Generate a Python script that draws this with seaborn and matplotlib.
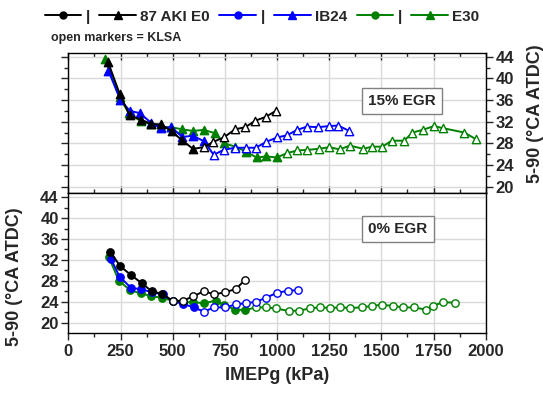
import matplotlib
matplotlib.use("Agg")
import matplotlib.pyplot as plt
import seaborn as sns
from matplotlib.lines import Line2D
from matplotlib.ticker import MultipleLocator

# ---------------- data ----------------
# 15% EGR (top panel)
e0_15_fill_x = [190, 245, 293, 346, 397, 445, 496, 544, 597]
e0_15_fill_y = [43.0, 37.2, 33.2, 32.4, 31.6, 31.5, 30.2, 28.6, 27.0]
e0_15_open_x = [648, 695, 745, 798, 848, 896, 946, 994]
e0_15_open_y = [27.3, 28.3, 29.1, 30.6, 31.0, 32.2, 32.9, 34.0]

ib_15_fill_x = [192, 248, 294, 341, 397, 445, 493, 546, 597, 650]
ib_15_fill_y = [41.4, 36.1, 34.0, 33.6, 31.8, 30.8, 31.0, 29.2, 29.4, 28.4]
ib_15_open_x = [696, 744, 797, 850, 898, 949, 1000, 1048, 1096, 1144, 1197, 1250, 1293, 1346]
ib_15_open_y = [25.9, 26.8, 27.2, 27.2, 27.2, 28.3, 29.1, 29.5, 30.5, 31.1, 31.0, 31.2, 31.3, 30.3]

e30_15_fill_x = [176, 245, 289, 346, 397, 445, 493, 544, 597, 648, 701, 748, 800, 850, 902, 949, 998]
e30_15_fill_y = [43.5, 36.5, 33.6, 32.1, 31.5, 31.0, 31.0, 30.6, 30.3, 30.5, 29.9, 28.0, 27.4, 26.5, 25.4, 25.6, 25.4]
e30_15_open_x = [1048, 1096, 1144, 1200, 1250, 1300, 1349, 1413, 1455, 1505, 1549, 1609, 1649, 1698, 1752, 1797, 1898, 1952]
e30_15_open_y = [26.2, 26.7, 26.8, 27.0, 27.3, 26.9, 27.6, 27.0, 27.4, 27.4, 28.5, 28.5, 30.0, 30.5, 31.2, 30.8, 30.0, 28.8]

# 0% EGR (bottom panel)
e0_0_fill_x = [200, 248, 300, 353, 399, 450]
e0_0_fill_y = [33.6, 30.8, 29.1, 27.5, 26.0, 25.5]
e0_0_open_x = [501, 548, 598, 648, 700, 749, 801, 848]
e0_0_open_y = [24.1, 24.2, 25.0, 26.0, 25.4, 25.8, 26.4, 28.2]

ib_0_fill_x = [205, 245, 301, 349, 400, 453, 500, 548, 600]
ib_0_fill_y = [32.1, 28.8, 26.6, 26.4, 25.8, 25.4, 24.1, 23.6, 22.9]
ib_0_open_x = [650, 698, 752, 803, 853, 901, 949, 1000, 1053, 1098]
ib_0_open_y = [22.1, 22.9, 22.9, 23.5, 23.7, 24.0, 24.8, 25.7, 26.1, 26.2]

e30_0_fill_x = [194, 242, 296, 346, 397, 450, 500, 548, 597, 650, 705, 746, 797, 848]
e30_0_fill_y = [32.5, 28.0, 26.2, 25.6, 25.1, 24.7, 24.2, 23.9, 23.9, 23.7, 24.2, 23.4, 22.5, 22.4]
e30_0_open_x = [898, 949, 997, 1056, 1106, 1157, 1205, 1255, 1301, 1351, 1405, 1456, 1501, 1554,
                1605, 1656, 1712, 1746, 1797, 1853]
e30_0_open_y = [22.9, 22.9, 22.7, 22.2, 22.3, 22.7, 22.9, 22.8, 22.9, 22.8, 22.9, 23.2, 23.4, 23.2,
                22.9, 22.9, 22.5, 23.2, 23.9, 23.8]

fuel_labels = ["87 AKI E0", "IB24", "E30"]
fuel_colors = ["black", "#0000ff", "#008000"]
x_ticks = [0, 250, 500, 750, 1000, 1250, 1500, 1750, 2000]
y_ticks = [20, 24, 28, 32, 36, 40, 44]

# ---------------- style ----------------
sns.set_theme(style="white")
plt.rcParams['font.family'] = ['Liberation Sans', 'DejaVu Sans']
plt.rcParams['font.weight'] = 'bold'
plt.rcParams['axes.labelweight'] = 'bold'

fig = plt.figure(figsize=(5.43, 3.94), dpi=100)
L, W = 0.126, 0.7685
ax_top = fig.add_axes([L, 0.5102, W, 0.3545])
ax_bot = fig.add_axes([L, 0.1556, W, 0.3546], sharex=ax_top)

MS = {"o": 28, "^": 36}


def draw(ax, fx, fy, ox, oy, color, marker, z):
    sns.lineplot(x=fx + ox, y=fy + oy, color=color, lw=1.4, estimator=None,
                 sort=False, ax=ax, zorder=z)
    sns.scatterplot(x=fx, y=fy, marker=marker, color=color, edgecolor=color,
                    s=MS[marker], linewidth=1.0, ax=ax, zorder=z + 0.5)
    sns.scatterplot(x=ox, y=oy, marker=marker, facecolor="white", edgecolor=color,
                    s=MS[marker], linewidth=1.0, ax=ax, zorder=z + 0.5)


draw(ax_top, e30_15_fill_x, e30_15_fill_y, e30_15_open_x, e30_15_open_y, fuel_colors[2], "^", 3)
draw(ax_top, ib_15_fill_x, ib_15_fill_y, ib_15_open_x, ib_15_open_y, fuel_colors[1], "^", 4)
draw(ax_top, e0_15_fill_x, e0_15_fill_y, e0_15_open_x, e0_15_open_y, fuel_colors[0], "^", 5)

draw(ax_bot, e30_0_fill_x, e30_0_fill_y, e30_0_open_x, e30_0_open_y, fuel_colors[2], "o", 3)
draw(ax_bot, ib_0_fill_x, ib_0_fill_y, ib_0_open_x, ib_0_open_y, fuel_colors[1], "o", 4)
draw(ax_bot, e0_0_fill_x, e0_0_fill_y, e0_0_open_x, e0_0_open_y, fuel_colors[0], "o", 5)

for ax in (ax_top, ax_bot):
    ax.set_xlim(0, 2000)
    ax.set_xticks(x_ticks)
    ax.xaxis.set_minor_locator(MultipleLocator(125))
    ax.set_yticks(y_ticks)
    ax.yaxis.set_minor_locator(MultipleLocator(2))
    ax.grid(True, which="major", color="#d9d9d9", lw=1.0)
    ax.set_axisbelow(True)
    for sp in ax.spines.values():
        sp.set_color("black")
        sp.set_linewidth(1.0)
    ax.set_xlabel("")
    ax.set_ylabel("")

ax_top.set_ylim(18.85, 44.63)
ax_bot.set_ylim(18.06, 44.82)

# top panel: ticks on right with labels, left ticks without labels
ax_top.tick_params(axis="y", which="both", left=True, right=True, labelleft=False,
                   labelright=True, direction="out", labelsize=12, pad=2)
ax_top.tick_params(axis="y", which="major", length=5, width=1)
ax_top.tick_params(axis="y", which="minor", length=3, width=1)
ax_top.tick_params(axis="x", which="both", top=True, bottom=True, labelbottom=False,
                   direction="in")
ax_top.tick_params(axis="x", which="major", length=5, width=1)
ax_top.tick_params(axis="x", which="minor", length=3, width=1)

ax_bot.tick_params(axis="y", which="both", left=True, right=False, labelleft=True,
                   direction="out", labelsize=12, pad=2)
ax_bot.tick_params(axis="y", which="major", length=5, width=1)
ax_bot.tick_params(axis="y", which="minor", length=3, width=1)
ax_bot.tick_params(axis="x", which="both", bottom=True, top=False, direction="out",
                   labelsize=12, pad=3)
ax_bot.tick_params(axis="x", which="major", length=5, width=1)
ax_bot.tick_params(axis="x", which="minor", length=3, width=1)

for lab in ax_top.get_yticklabels() + ax_bot.get_yticklabels() + ax_bot.get_xticklabels():
    lab.set_fontweight("bold")

ax_bot.set_xlabel("IMEPg (kPa)", fontsize=13, fontweight="bold", labelpad=6)
ax_bot.set_ylabel("5-90 (°CA ATDC)", fontsize=13, fontweight="bold")
ax_bot.yaxis.set_label_coords(-0.11, 0.40)
ax_top.yaxis.set_label_position("right")
ax_top.set_ylabel("5-90 (°CA ATDC)", fontsize=13, fontweight="bold", rotation=90)
ax_top.yaxis.set_label_coords(1.098, 0.57)

box = dict(boxstyle="square,pad=0.4", facecolor="white", edgecolor="#808080", lw=1)
ax_top.text(0.80, 0.66, "15% EGR", transform=ax_top.transAxes, ha="center", va="center",
            fontsize=11, fontweight="bold", bbox=box, zorder=10)
ax_bot.text(0.79, 0.74, "0% EGR", transform=ax_bot.transAxes, ha="center", va="center",
            fontsize=11, fontweight="bold", bbox=box, zorder=10)

# legend
handles, labels = [], []
for name, col in zip(fuel_labels, fuel_colors):
    handles.append(Line2D([], [], color=col, lw=1.4, marker="o", markersize=5))
    labels.append("|")
    handles.append(Line2D([], [], color=col, lw=1.4, marker="^", markersize=5.5))
    labels.append(name)
fig.legend(handles, labels, loc="center left", bbox_to_anchor=(0.082, 0.958), ncol=6,
           frameon=False, prop={"weight": "bold", "size": 11}, handlelength=2.4,
           handletextpad=0.3, columnspacing=0.6, borderaxespad=0, borderpad=0)
fig.text(0.094, 0.904, "open markers = KLSA", fontsize=9, fontweight="bold",
         ha="left", va="center")

fig.savefig("out.png", dpi=100)
